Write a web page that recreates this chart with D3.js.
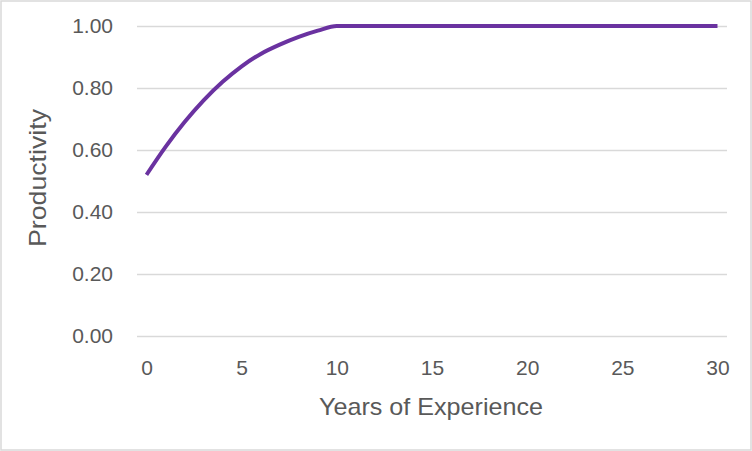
<!DOCTYPE html>
<html><head><meta charset="utf-8">
<script src="https://cdn.jsdelivr.net/npm/d3@7"></script>
<style>html,body{margin:0;padding:0;background:#fff;} svg{display:block;}</style>
</head><body>
<svg id="chart" width="752" height="451"></svg>
<script>
const years = [0,1,2,3,4,5,6,7,8,9,10,11,12,13,14,15,16,17,18,19,20,21,22,23,24,25,26,27,28,29,30];
const productivity = [0.52,0.61,0.69,0.76,0.82,0.87,0.91,0.94,0.965,0.985,1.00,1.00,1.00,1.00,1.00,1.00,1.00,1.00,1.00,1.00,1.00,1.00,1.00,1.00,1.00,1.00,1.00,1.00,1.00,1.00,1.00];
const xTicks = [0,5,10,15,20,25,30];
const yTicks = [0,0.2,0.4,0.6,0.8,1.0];
const xTitle = "Years of Experience";
const yTitle = "Productivity";

const svg = d3.select("#chart");
const W = 752, H = 451;
const plotLeft = 137, plotRight = 727, plotTop = 26, plotBottom = 336;
const step = (plotRight - plotLeft) / years.length;

svg.append("rect").attr("x",1).attr("y",1).attr("width",W-2).attr("height",H-2)
  .attr("fill","#fff").attr("stroke","#d9d9d9").attr("stroke-width",1.5);

const x = d3.scaleLinear().domain([0,30]).range([plotLeft + step/2, plotRight - step/2]);
const y = d3.scaleLinear().domain([0,1]).range([plotBottom, plotTop]);

const font = "'Liberation Sans', Arial, sans-serif";
const textColor = "#595959";

const yAxis = d3.axisLeft(y).tickValues(yTicks).tickFormat(d3.format(".2f"))
  .tickSize(-(plotRight - plotLeft)).tickPadding(24);
const gy = svg.append("g").attr("transform",`translate(${plotLeft},0)`).call(yAxis);
gy.select(".domain").remove();
gy.selectAll(".tick line").attr("stroke","#d9d9d9").attr("stroke-width",1.3);
gy.selectAll(".tick text").attr("fill",textColor).style("font-family",font).style("font-size","21px");

const xAxis = d3.axisBottom(x).tickValues(xTicks).tickFormat(d3.format("d")).tickSize(0).tickPadding(24);
const gx = svg.append("g").attr("transform",`translate(0,${plotBottom})`).call(xAxis);
gx.select(".domain").remove();
gx.selectAll(".tick text").attr("fill",textColor).style("font-family",font).style("font-size","21px");

const line = d3.line().x((d,i)=>x(years[i])).y(d=>y(d)).curve(d3.curveMonotoneX);
svg.append("path").datum(productivity).attr("d",line)
  .attr("fill","none").attr("stroke","#6a32a0").attr("stroke-width",4).attr("stroke-linejoin","round");

svg.append("text").attr("x",431).attr("y",415).attr("text-anchor","middle")
  .attr("fill",textColor).style("font-family",font).style("font-size","24px")
  .attr("textLength",224).attr("lengthAdjust","spacingAndGlyphs").text(xTitle);
svg.append("text").attr("transform","translate(46,178) rotate(-90)").attr("text-anchor","middle")
  .attr("fill",textColor).style("font-family",font).style("font-size","24px")
  .attr("textLength",138).attr("lengthAdjust","spacingAndGlyphs").text(yTitle);
</script>
</body></html>
